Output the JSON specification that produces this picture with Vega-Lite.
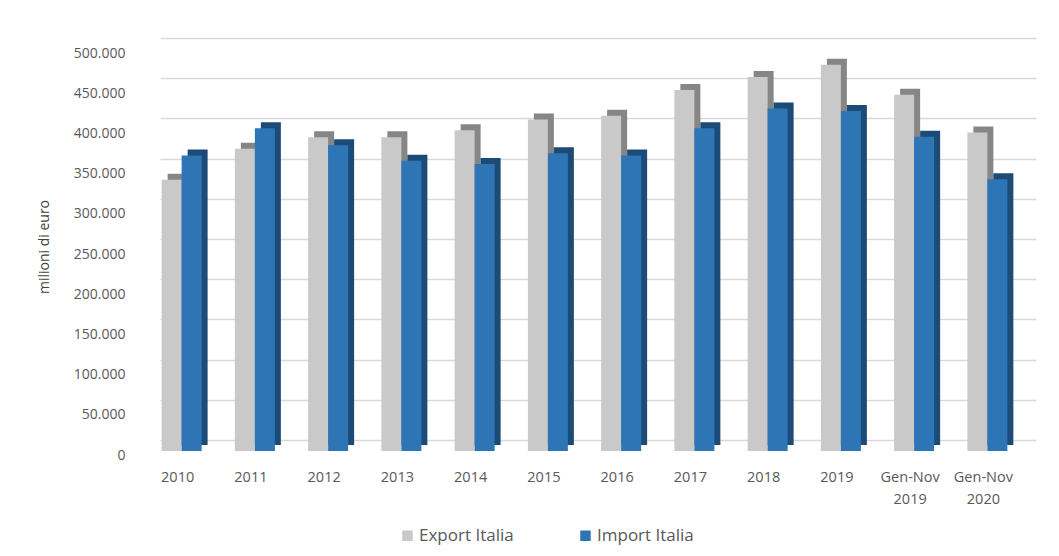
{
  "$schema": "https://vega.github.io/schema/vega-lite/v6.json",
  "autosize": {"type": "none"},
  "width": 876,
  "height": 417,
  "padding": {"left": 160, "top": 38, "right": 23, "bottom": 101},
  "background": "white",
  "config": {
    "locale": {"number": {"decimal": ",", "thousands": ".", "grouping": [3], "currency": ["€", ""]}},
    "font": "Open Sans",
    "view": {"stroke": null}
  },
  "data": {
    "values": [
      {"period": "2010", "series": "Export Italia", "value": 337346},
      {"period": "2010", "series": "Import Italia", "value": 367390},
      {"period": "2011", "series": "Export Italia", "value": 375904},
      {"period": "2011", "series": "Import Italia", "value": 401428},
      {"period": "2012", "series": "Export Italia", "value": 390182},
      {"period": "2012", "series": "Import Italia", "value": 380292},
      {"period": "2013", "series": "Export Italia", "value": 390233},
      {"period": "2013", "series": "Import Italia", "value": 361002},
      {"period": "2014", "series": "Export Italia", "value": 398870},
      {"period": "2014", "series": "Import Italia", "value": 356939},
      {"period": "2015", "series": "Export Italia", "value": 412291},
      {"period": "2015", "series": "Import Italia", "value": 370484},
      {"period": "2016", "series": "Export Italia", "value": 417077},
      {"period": "2016", "series": "Import Italia", "value": 367626},
      {"period": "2017", "series": "Export Italia", "value": 449129},
      {"period": "2017", "series": "Import Italia", "value": 401487},
      {"period": "2018", "series": "Export Italia", "value": 465325},
      {"period": "2018", "series": "Import Italia", "value": 426046},
      {"period": "2019", "series": "Export Italia", "value": 480352},
      {"period": "2019", "series": "Import Italia", "value": 423000},
      {"period": "Gen-Nov 2019", "series": "Export Italia", "value": 443000},
      {"period": "Gen-Nov 2019", "series": "Import Italia", "value": 391000},
      {"period": "Gen-Nov 2020", "series": "Export Italia", "value": 396000},
      {"period": "Gen-Nov 2020", "series": "Import Italia", "value": 338000}
    ]
  },
  "layer": [
    {
      "encoding": {
        "x": {
          "field": "period", "type": "nominal", "sort": null,
          "scale": {"range": [-19, 860], "paddingInner": 0.454, "paddingOuter": 0.227},
          "axis": {
            "title": null, "domain": false, "ticks": false, "grid": false,
            "labelAngle": 0, "labelPadding": 15, "labelFontSize": 14.5, "labelColor": "#595959",
            "labelLineHeight": 22, "labelExpr": "split(datum.label, ' ')"
          }
        },
        "y": {
          "field": "value", "type": "quantitative",
          "scale": {"domain": [-4975, 513682], "nice": false, "zero": false},
          "axis": {
            "title": "milioni di euro", "titleFontSize": 14, "titleFontWeight": "normal", "titleColor": "#404040", "titlePadding": 22,
            "values": [0, 50000, 100000, 150000, 200000, 250000, 300000, 350000, 400000, 450000, 500000],
            "format": ",d", "grid": false, "domain": false, "ticks": false, "labelOffset": 4,
            "labelPadding": 35, "labelFontSize": 14, "labelColor": "#595959"
          }
        }
      },
      "layer": [
        {
          "mark": {"type": "bar", "yOffset": -6},
          "encoding": {
            "xOffset": {"field": "series", "type": "nominal", "scale": {"paddingInner": 0, "range": [10, 50]}},
            "fill": {
              "condition": {"test": "datum.series === 'Export Italia'", "value": "#868686"},
              "value": "#1d4b78"
            }
          }
        },
        {
          "mark": {"type": "bar"},
          "encoding": {
            "xOffset": {"field": "series", "type": "nominal", "scale": {"paddingInner": 0, "range": [4, 44]}},
            "color": {
              "field": "series", "type": "nominal",
              "scale": {"domain": ["Export Italia", "Import Italia"], "range": ["#c9c9c9", "#2e75b6"]},
              "legend": {
                "title": null, "orient": "none", "legendX": 239, "legendY": 489, "direction": "horizontal",
                "symbolType": "square", "symbolSize": 110, "symbolStrokeWidth": 0, "labelOffset": 3,
                "labelFontSize": 17, "labelColor": "#595959", "columnPadding": 63
              }
            }
          }
        }
      ],
      "resolve": {"scale": {"xOffset": "independent"}}
    },
    {
      "mark": {"type": "point", "opacity": 0},
      "encoding": {
        "y": {
          "field": "value", "type": "quantitative",
          "scale": {"domain": [-18657, 500000], "nice": false, "zero": false},
          "axis": {
            "orient": "right", "title": null, "labels": false, "ticks": false, "domain": false,
            "values": [0, 50000, 100000, 150000, 200000, 250000, 300000, 350000, 400000, 450000, 500000],
            "grid": true, "gridColor": "#d9d9d9", "gridWidth": 1.5
          }
        }
      }
    }
  ],
  "resolve": {"scale": {"y": "independent"}}
}
